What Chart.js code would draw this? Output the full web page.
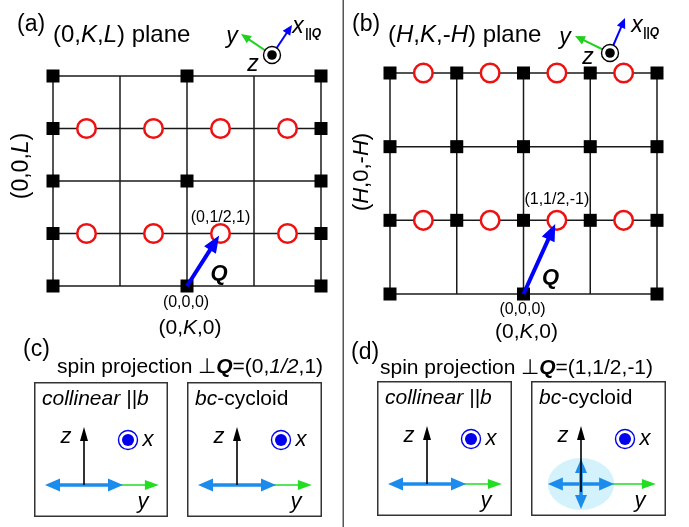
<!DOCTYPE html>
<html><head><meta charset="utf-8">
<script src="https://cdn.jsdelivr.net/npm/chart.js"></script>
<style>
html,body{margin:0;padding:0;background:#fff;}
#wrap{position:relative;width:689px;height:527px;overflow:hidden;background:#fff;}
canvas{position:absolute;}
</style></head><body>
<div id="wrap">
<canvas id="cA" width="344" height="527" style="left:0;top:0;width:344px;height:527px"></canvas>
<canvas id="cB" width="345" height="527" style="left:344px;top:0;width:345px;height:527px"></canvas>
<canvas id="s0" width="134" height="135" style="left:34px;top:382px;width:134px;height:135px"></canvas>
<canvas id="s1" width="135" height="135" style="left:187px;top:382px;width:135px;height:135px"></canvas>
<canvas id="s2" width="135" height="135" style="left:377px;top:381px;width:135px;height:135px"></canvas>
<canvas id="s3" width="135" height="135" style="left:531px;top:381px;width:135px;height:135px"></canvas>
</div>
<script>
// ---------------- data ----------------
// panel (a): (0,K,L) plane
const gridK_A = [-2, -1, 0, 1, 2];
const gridL_A = [0, 1, 2, 3, 4];
const nuclearK_A = [-2, 0, 2, -2, 2, -2, 0, 2, -2, 2, -2, 0, 2];
const nuclearL_A = [0, 0, 0, 1, 1, 2, 2, 2, 3, 3, 4, 4, 4];
const magneticK_A = [-1.5, -0.5, 0.5, 1.5, -1.5, -0.5, 0.5, 1.5];
const magneticL_A = [1, 1, 1, 1, 3, 3, 3, 3];
const qA = [0, 0.5, 1];            // (H,K,L)
const qTextA = ['0', '1/2', '1'];
// panel (b): (H,K,-H) plane
const gridK_B = [-2, -1, 0, 1, 2];
const gridH_B = [0, 1, 2, 3];
const nuclearK_B = [-2, 0, 2, -2, -1, 0, 1, 2, -2, -1, 0, 1, 2, -2, -1, 0, 1, 2];
const nuclearH_B = [0, 0, 0, 1, 1, 1, 1, 1, 2, 2, 2, 2, 2, 3, 3, 3, 3, 3];
const magneticK_B = [-1.5, -0.5, 0.5, 1.5, -1.5, -0.5, 0.5, 1.5];
const magneticH_B = [1, 1, 1, 1, 3, 3, 3, 3];
const qB = [1, 0.5, -1];           // (H,K,-H)
const qTextB = ['1', '1/2', '-1'];
// panels (c),(d): spin projections perpendicular to Q
const spinBoxTitles = [['collinear ||b', ''], ['bc', '-cycloid'], ['collinear ||b', ''], ['bc', '-cycloid']];
const spinAmpY = [1, 1, 1, 0.85];
const spinAmpZ = [0, 0, 0, 0.64];
const axisLenY = 1.92, axisLenZ = 1.49;

// ---------------- helpers ----------------
const FAM = '"Liberation Sans", Arial, Helvetica, sans-serif';
const F = (s, st) => (st ? st + ' ' : '') + s + 'px ' + FAM;

function arrow(ctx, x1, y1, x2, y2, color, lw, hl, hw) {
  const a = Math.atan2(y2 - y1, x2 - x1);
  const bx = x2 - hl * Math.cos(a), by = y2 - hl * Math.sin(a);
  ctx.save();
  ctx.strokeStyle = color; ctx.fillStyle = color; ctx.lineWidth = lw; ctx.lineCap = 'butt';
  ctx.beginPath(); ctx.moveTo(x1, y1); ctx.lineTo(bx + Math.cos(a), by + Math.sin(a)); ctx.stroke();
  ctx.beginPath(); ctx.moveTo(x2, y2);
  ctx.lineTo(bx + hw / 2 * Math.sin(a), by - hw / 2 * Math.cos(a));
  ctx.lineTo(bx - hw / 2 * Math.sin(a), by + hw / 2 * Math.cos(a));
  ctx.closePath(); ctx.fill();
  ctx.restore();
}
function runs(ctx, parts, x, y, align, color) {
  ctx.save(); ctx.textBaseline = 'middle'; ctx.fillStyle = color || '#000';
  let w = 0;
  parts.forEach(p => { ctx.font = p[1]; w += ctx.measureText(p[0]).width; });
  let cx = align === 'center' ? x - w / 2 : (align === 'right' ? x - w : x);
  parts.forEach(p => { ctx.font = p[1]; ctx.fillText(p[0], cx, y + (p[2] || 0)); cx += ctx.measureText(p[0]).width; });
  ctx.restore();
}
function vertText(ctx, parts, x, y) {
  ctx.save(); ctx.translate(x, y); ctx.rotate(-Math.PI / 2);
  runs(ctx, parts, 0, 0, 'center'); ctx.restore();
}
function triad(ctx, cx, cy, blue, green, lab) {
  arrow(ctx, cx, cy, cx + green[0], cy + green[1], '#1fd11f', 2, 10, 9);
  arrow(ctx, cx, cy, cx + blue[0], cy + blue[1], '#0000ff', 2, 10, 9);
  ctx.save();
  ctx.beginPath(); ctx.arc(cx, cy, 8.5, 0, Math.PI * 2);
  ctx.fillStyle = '#fff'; ctx.fill(); ctx.lineWidth = 1.4; ctx.strokeStyle = '#000'; ctx.stroke();
  ctx.beginPath(); ctx.arc(cx, cy, 4.8, 0, Math.PI * 2); ctx.fillStyle = '#000'; ctx.fill();
  ctx.restore();
  runs(ctx, [['y', F(23, 'italic')]], cx + lab.y[0], cy + lab.y[1], 'center');
  runs(ctx, [['x', F(23, 'italic')]], cx + lab.x[0], cy + lab.x[1], 'center');
  runs(ctx, [['||Q', F(12, 'italic bold')]], cx + lab.s[0], cy + lab.s[1], 'left');
  runs(ctx, [['z', F(23, 'italic')]], cx + lab.z[0], cy + lab.z[1], 'center');
}

function lattice(id, o) {
  const kmin = Math.min(...o.gridK), kmax = Math.max(...o.gridK);
  const vmin = Math.min(...o.gridV), vmax = Math.max(...o.gridV);
  const datasets = [
    { label: 'magnetic', data: o.magK.map((k, i) => ({ x: k, y: o.magV[i] })), pointStyle: 'circle',
      pointRadius: 9.3, borderColor: '#ee1111', borderWidth: 2.5, backgroundColor: '#ffffff', order: 0, clip: false },
    { label: 'nuclear', data: o.nucK.map((k, i) => ({ x: k, y: o.nucV[i] })), pointStyle: 'rect',
      pointRadius: 9.2, backgroundColor: '#000000', borderColor: '#000000', borderWidth: 0, order: 1, clip: false }
  ];
  o.gridK.forEach(k => datasets.push({ data: [{ x: k, y: vmin }, { x: k, y: vmax }], showLine: true,
    borderColor: '#1a1a1a', borderWidth: 1.5, pointRadius: 0, order: 5, clip: false }));
  o.gridV.forEach(v => datasets.push({ data: [{ x: kmin, y: v }, { x: kmax, y: v }], showLine: true,
    borderColor: '#1a1a1a', borderWidth: 1.5, pointRadius: 0, order: 5, clip: false }));
  return new Chart(document.getElementById(id), {
    type: 'scatter', data: { datasets },
    options: {
      responsive: false, animation: false, events: [],
      layout: { padding: o.pad },
      plugins: { legend: { display: false }, tooltip: { enabled: false } },
      scales: { x: { type: 'linear', min: kmin, max: kmax, display: false },
                y: { type: 'linear', min: vmin, max: vmax, display: false } }
    },
    plugins: [{ id: 'deco', afterDatasetsDraw(chart) { o.draw(chart); } }]
  });
}

// ---------------- panel (a) + (c) texts ----------------
lattice('cA', {
  gridK: gridK_A, gridV: gridL_A, nucK: nuclearK_A, nucV: nuclearL_A, magK: magneticK_A, magV: magneticL_A,
  pad: { left: 53, right: 23, top: 76, bottom: 241 },
  draw(chart) {
    const ctx = chart.ctx, X = chart.scales.x, Y = chart.scales.y, ca = chart.chartArea;
    const ox = X.getPixelForValue(0), oy = Y.getPixelForValue(0);
    const qx = X.getPixelForValue(qA[1]), qy = Y.getPixelForValue(qA[2]);
    const d = Math.hypot(qx - ox, qy - oy);
    arrow(ctx, ox, oy, qx - (qx - ox) * 2.5 / d, qy - (qy - oy) * 2.5 / d, '#0000ff', 4, 17, 14);
    runs(ctx, [['Q', F(22, 'italic bold')]], ox + 32, oy - 12, 'center');
    runs(ctx, [['(' + qTextA.join(',') + ')', F(16)]], qx, qy - 16, 'center');
    runs(ctx, [['(0,0,0)', F(16)]], ox - 1, oy + 17, 'center');
    runs(ctx, [['(0,', F(21)], ['K', F(21, 'italic')], [',0)', F(21)]], ox + 3, oy + 42, 'center');
    vertText(ctx, [['(0,0,', F(23)], ['L', F(23, 'italic')], [')', F(23)]], 22, 166);
    runs(ctx, [['(a)', F(23)]], 17, 25, 'left');
    runs(ctx, [['(0,', F(24)], ['K', F(24, 'italic')], [',', F(24)], ['L', F(24, 'italic')], [') plane', F(24)]], 53, 35, 'left');
    triad(ctx, ca.right - 49, ca.top - 21, [20, -30], [-31, -21],
      { y: [-40, -18], x: [26, -28], s: [33, -21], z: [-19, 10] });
    runs(ctx, [['(c)', F(23)]], 23, 350, 'left');
    runs(ctx, [['spin projection ', F(21)], ['\u22A5', F(21)], ['Q', F(21, 'italic bold')], ['=(0,', F(21)],
      [qTextA[1], F(21, 'italic')], [',1)', F(21)]], 57, 367, 'left');
    ctx.save(); ctx.strokeStyle = '#555'; ctx.lineWidth = 1.5;
    ctx.beginPath(); ctx.moveTo(343.25, 0); ctx.lineTo(343.25, 527); ctx.stroke(); ctx.restore();
  }
});

// ---------------- panel (b) + (d) texts ----------------
lattice('cB', {
  gridK: gridK_B, gridV: gridH_B, nucK: nuclearK_B, nucV: nuclearH_B, magK: magneticK_B, magV: magneticH_B,
  pad: { left: 46, right: 32, top: 73, bottom: 233 },
  draw(chart) {
    const ctx = chart.ctx, X = chart.scales.x, Y = chart.scales.y, ca = chart.chartArea;
    const ox = X.getPixelForValue(0), oy = Y.getPixelForValue(0);
    const qx = X.getPixelForValue(qB[1]), qy = Y.getPixelForValue(qB[0]);
    const d = Math.hypot(qx - ox, qy - oy);
    arrow(ctx, ox, oy, qx - (qx - ox) * 4 / d, qy - (qy - oy) * 4 / d, '#0000ff', 4, 17, 14);
    runs(ctx, [['Q', F(22, 'italic bold')]], ox + 27, oy - 16, 'center');
    runs(ctx, [['(' + qTextB.join(',') + ')', F(16)]], qx, qy - 21, 'center');
    runs(ctx, [['(0,0,0)', F(16)]], ox - 1, oy + 16, 'center');
    runs(ctx, [['(0,', F(21)], ['K', F(21, 'italic')], [',0)', F(21)]], ox + 3, oy + 38, 'center');
    vertText(ctx, [['(', F(22)], ['H', F(22, 'italic')], [',0,-', F(22)], ['H', F(22, 'italic')], [')', F(22)]], 18, 172);
    runs(ctx, [['(b)', F(23)]], 8, 25, 'left');
    runs(ctx, [['(', F(24)], ['H', F(24, 'italic')], [',', F(24)], ['K', F(24, 'italic')], [',-', F(24)],
      ['H', F(24, 'italic')], [') plane', F(24)]], 44, 35, 'left');
    triad(ctx, ca.right - 47, ca.top - 20, [15, -35], [-35, -17],
      { y: [-45, -15], x: [27, -27], s: [33, -20], z: [-22, 5] });
    runs(ctx, [['(d)', F(23)]], 7, 353, 'left');
    runs(ctx, [['spin projection ', F(21)], ['\u22A5', F(21)], ['Q', F(21, 'italic bold')],
      ['=(' + qTextB.join(',') + ')', F(21)]], 36, 368, 'left');
  }
});

// ---------------- spin projection boxes ----------------
function spinBox(id, i) {
  const cv = document.getElementById(id);
  const W = cv.width, H = cv.height, ox = 50, oy = 103, u = 39;
  new Chart(cv, {
    type: 'scatter',
    data: { datasets: [] },
    options: {
      responsive: false, animation: false, events: [],
      layout: { padding: 0 },
      plugins: { legend: { display: false }, tooltip: { enabled: false } },
      scales: { x: { type: 'linear', min: -ox / u, max: (W - ox) / u, display: false },
                y: { type: 'linear', min: -(H - oy) / u, max: oy / u, display: false } }
    },
    plugins: [{ id: 'spin', afterDraw(chart) {
      const ctx = chart.ctx, X = chart.scales.x, Y = chart.scales.y;
      const x0 = X.getPixelForValue(0), y0 = Y.getPixelForValue(0);
      const ay = X.getPixelForValue(spinAmpY[i]) - x0;
      const az = y0 - Y.getPixelForValue(spinAmpZ[i]);
      const blue = '#1c8cec';
      if (spinAmpZ[i] > 0) {
        ctx.save(); ctx.fillStyle = 'rgba(196,238,251,0.75)';
        ctx.beginPath(); ctx.ellipse(x0, y0, ay, az + 1, 0, 0, Math.PI * 2); ctx.fill(); ctx.restore();
      }
      arrow(ctx, x0, y0, X.getPixelForValue(axisLenY), y0, '#22dd22', 1.6, 14, 10);
      arrow(ctx, x0, y0, x0 + ay, y0, blue, 3.5, 15, 13);
      arrow(ctx, x0, y0, x0 - ay, y0, blue, 3.5, 15, 13);
      if (spinAmpZ[i] > 0) {
        arrow(ctx, x0, y0, x0, y0 - az, blue, 3.5, 14, 12);
        arrow(ctx, x0, y0, x0, y0 + az, blue, 3.5, 14, 12);
      }
      arrow(ctx, x0, y0 + (spinAmpZ[i] > 0 ? 8 : 0), x0, Y.getPixelForValue(axisLenZ), '#000', 1.6, 14, 8);
      // x (out of plane) symbol
      ctx.save();
      ctx.beginPath(); ctx.arc(x0 + 44, y0 - 45, 9.5, 0, Math.PI * 2);
      ctx.lineWidth = 1.4; ctx.strokeStyle = '#0000ee'; ctx.stroke();
      ctx.beginPath(); ctx.arc(x0 + 44, y0 - 45, 6, 0, Math.PI * 2); ctx.fillStyle = '#0000ee'; ctx.fill();
      ctx.restore();
      runs(ctx, [['z', F(22, 'italic')]], x0 - 18, y0 - 48, 'center');
      runs(ctx, [['x', F(22, 'italic')]], x0 + 64, y0 - 45, 'center');
      runs(ctx, [['y', F(22, 'italic')]], x0 + 59, y0 + 17, 'center');
      const t = spinBoxTitles[i];
      runs(ctx, [[t[0], F(21, 'italic')], [t[1], F(21)]], 8, 17, 'left');
      ctx.save(); ctx.strokeStyle = '#333'; ctx.lineWidth = 1.5;
      ctx.strokeRect(0.75, 0.75, W - 1.5, H - 1.5); ctx.restore();
    } }]
  });
}
['s0', 's1', 's2', 's3'].forEach((id, i) => spinBox(id, i));
</script>
</body></html>
